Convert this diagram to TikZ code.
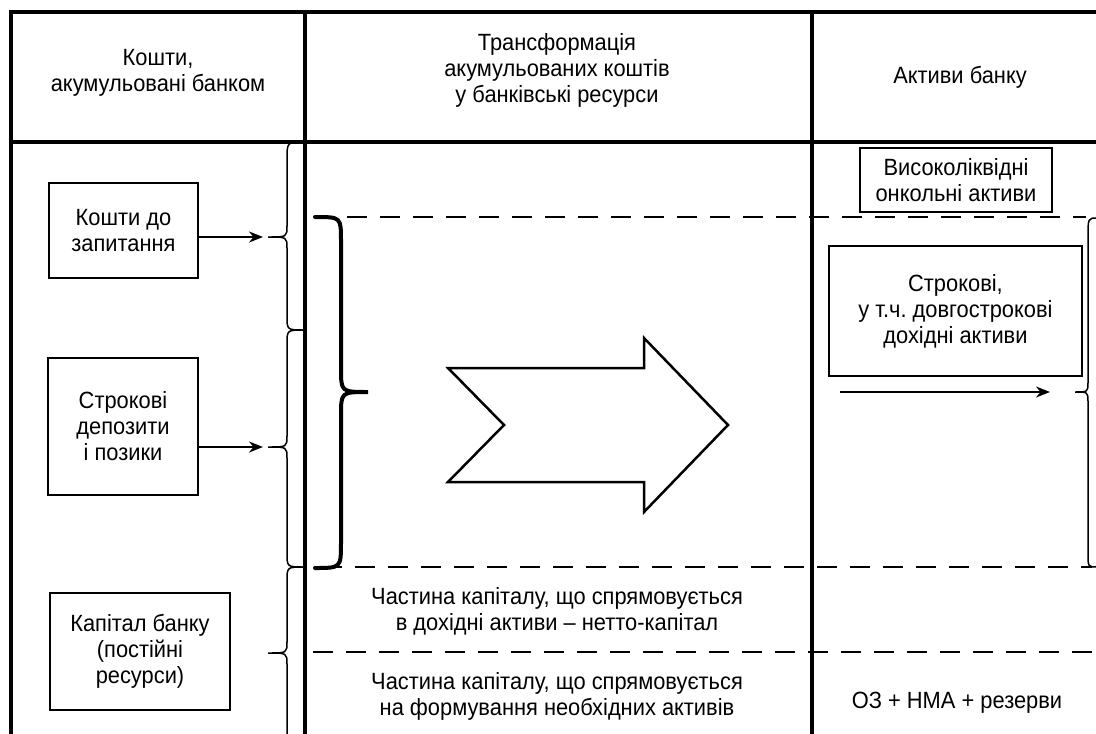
\documentclass[tikz,border=0pt]{standalone}
\usepackage{fontspec}
\setmainfont{Liberation Sans}[FakeStretch=0.93]
\usetikzlibrary{arrows.meta}
\frenchspacing
\newcommand\mybrace[8]{%
  % #1 style, #2 x ends, #3 x vertical, #4 x tip, #5 top y, #6 tip y, #7 bottom y, #8 radii {r1/r2/r3}
  \foreach \ra/\rb/\rc in {#8}{%
  \draw[#1] (#2,#5) .. controls (#3,#5) .. (#3,#5+\ra) -- (#3,#6-\rb)
     .. controls (#3,#6) .. (#4,#6) .. controls (#3,#6) .. (#3,#6+\rb)
     -- (#3,#7-\rc) .. controls (#3,#7) .. (#2,#7);}%
}
\begin{document}
\begin{tikzpicture}[x=1pt,y=-1pt,
  grid/.style={line width=3.3pt},
  txt/.style={align=center,font=\fontsize{23.5}{26}\selectfont,inner sep=0pt},
  box/.style={txt,draw,line width=1.6pt},
  dashline/.style={line width=2pt,dash pattern=on 20pt off 13pt},
  thinbrace/.style={line width=1.5pt},
  thickbrace/.style={line width=4pt,line cap=round},
  arr/.style={line width=2pt,-{Stealth[length=14pt,width=11pt]}},
  bigarrow/.style={line width=2.5pt,line join=miter},
]
\useasboundingbox (0,0) rectangle (1096,734);
% table grid
\draw[grid] (1096,12) -- (11,12) -- (11,734);
\draw[grid] (9.35,142) -- (1096,142);
\draw[grid] (305,12) -- (305,734);
\draw[grid] (812,12) -- (812,734);
% headers
\node[txt] (h1) at (158,73) {Кошти,\\акумульовані банком};
\node[txt] (h2) at (557,70) {Трансформація\\акумульованих коштів\\у банківські ресурси};
\node[txt] (h3) at (960,77) {Активи банку};
% dashed lines
\draw[dashline] (347,217) -- (1086,217);
\draw[dashline] (322,567) -- (1092,567);
\draw[dashline] (313,652) -- (1096,652);
% left boxes
\node[box,minimum width=149pt,minimum height=95pt] (b1) at (123.5,230.5) {Кошти до\\запитання};
\node[box,minimum width=150pt,minimum height=137pt] (b2) at (123,426.5) {Строкові\\депозити\\і позики};
\node[box,minimum width=180pt,minimum height=117pt] (b3) at (140,651.5) {Капітал банку\\(постійні\\ресурси)};
% thin braces
\coordinate (t1) at (268,237);
\coordinate (t2) at (268,447);
\coordinate (t3) at (268,653);
\mybrace{thinbrace}{304}{287}{268}{142}{237}{330}{18/11/14}
\mybrace{thinbrace}{304}{287}{268}{330}{447}{567}{14/11/14}
\mybrace{thinbrace}{304}{287}{268}{567}{653}{740}{14/11/12}
\draw[arr,shorten >=5pt] (b1.east |- t1) -- (t1);
\draw[arr,shorten >=5pt] (b2.east |- t2) -- (t2);
% thick brace in middle
\mybrace{thickbrace}{315}{341}{368}{217}{392}{568}{24/24/26}
% big arrow
\draw[bigarrow] (448,368) -- (644,368) -- (644,338) -- (728,425) -- (644,512)
  -- (644,482) -- (448,482) -- (504,425) -- cycle;
% middle texts
\node[txt] (m1) at (557,611) {Частина капіталу, що спрямовується\\в дохідні активи – нетто-капітал};
\node[txt] (m2) at (557,696) {Частина капіталу, що спрямовується\\на формування необхідних активів};
% right column
\node[box,minimum width=192pt,minimum height=64pt] (r1) at (956,180) {Високоліквідні\\онкольні активи};
\node[box,minimum width=253pt,minimum height=130pt] (r2) at (955.5,311) {\rule{0pt}{16pt}Строкові,\\у т.ч. довгострокові\\дохідні активи};
\mybrace{thinbrace}{1097}{1088}{1075}{218}{392}{567}{20/10/14}
\coordinate (a0) at (840,392);
\coordinate (t4) at (1075,392);
\draw[arr,shorten >=25pt] (a0) -- (t4);
\node[txt] (r3) at (957,703) {ОЗ + НМА + резерви};
\end{tikzpicture}
\end{document}
